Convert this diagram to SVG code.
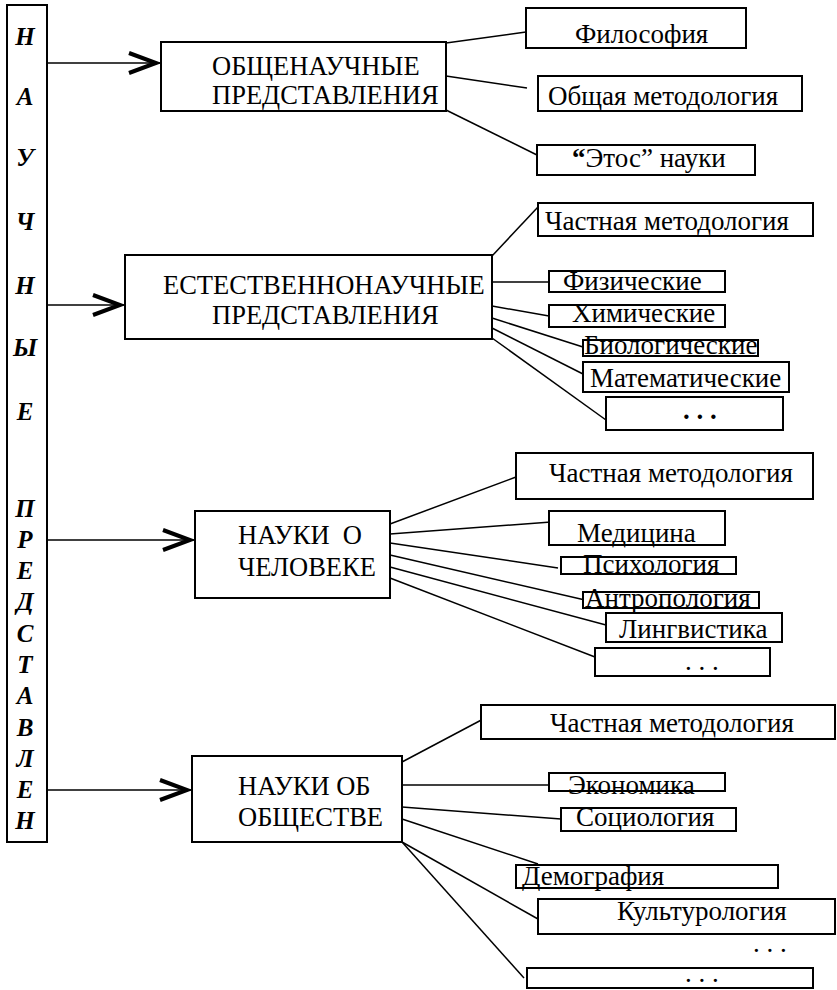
<svg xmlns="http://www.w3.org/2000/svg" width="837" height="990" viewBox="0 0 837 990">
<style>
.box{fill:#fff;stroke:#000;stroke-width:2}
.t{font-family:"Liberation Serif","Times New Roman",serif;font-size:27px;fill:#000}
.h{font-family:"Liberation Serif","Times New Roman",serif;font-size:26.5px;fill:#000}
.v{font-family:"Liberation Serif","Times New Roman",serif;font-size:25px;font-weight:bold;font-style:italic;text-anchor:middle;fill:#000}
.ln{stroke:#000;stroke-width:1.5;fill:none}
.ar{stroke:#000;stroke-width:1.5;fill:none;marker-end:url(#chev)}
</style>
<defs>
<marker id="chev" markerUnits="userSpaceOnUse" markerWidth="40" markerHeight="30" refX="32" refY="10" orient="auto" overflow="visible">
<path d="M0,0 L27,10 L0,20" fill="none" stroke="#000" stroke-width="4"/>
</marker>
</defs>
<rect width="837" height="990" fill="#fff"/>

<g id="bar">
<rect x="7" y="5" width="40" height="837" class="box"/>
<text class="v" x="25" y="45">Н</text>
<text class="v" x="25" y="105">А</text>
<text class="v" x="25" y="166">У</text>
<text class="v" x="25" y="230">Ч</text>
<text class="v" x="25" y="294">Н</text>
<text class="v" x="25" y="356">Ы</text>
<text class="v" x="25" y="420">Е</text>
<text class="v" x="25" y="517">П</text>
<text class="v" x="25" y="548">Р</text>
<text class="v" x="25" y="579">Е</text>
<text class="v" x="25" y="610">Д</text>
<text class="v" x="25" y="642">С</text>
<text class="v" x="25" y="673">Т</text>
<text class="v" x="25" y="704">А</text>
<text class="v" x="25" y="736">В</text>
<text class="v" x="25" y="767">Л</text>
<text class="v" x="25" y="798">Е</text>
<text class="v" x="25" y="829">Н</text>
</g>

<g id="connectors">
<line class="ar" x1="47" y1="63" x2="161" y2="63"/>
<line class="ar" x1="47" y1="305" x2="125" y2="305"/>
<line class="ar" x1="47" y1="540" x2="195" y2="540"/>
<line class="ar" x1="47" y1="790" x2="192" y2="790"/>

<line class="ln" x1="446" y1="43" x2="526" y2="32"/>
<line class="ln" x1="446" y1="76" x2="527" y2="88"/>
<line class="ln" x1="446" y1="110" x2="537" y2="155"/>

<line class="ln" x1="492" y1="256" x2="538" y2="207"/>
<line class="ln" x1="492" y1="282" x2="549" y2="282"/>
<line class="ln" x1="492" y1="306" x2="549" y2="316"/>
<line class="ln" x1="492" y1="318" x2="583" y2="347"/>
<line class="ln" x1="492" y1="328" x2="583" y2="374"/>
<line class="ln" x1="492" y1="338" x2="606" y2="420"/>

<line class="ln" x1="390" y1="524" x2="516" y2="477"/>
<line class="ln" x1="390" y1="534" x2="551" y2="522"/>
<line class="ln" x1="390" y1="543" x2="558" y2="568"/>
<line class="ln" x1="390" y1="555" x2="585" y2="600"/>
<line class="ln" x1="390" y1="567" x2="606" y2="625"/>
<line class="ln" x1="390" y1="578" x2="595" y2="657"/>

<line class="ln" x1="402" y1="762" x2="487" y2="717"/>
<line class="ln" x1="402" y1="785" x2="549" y2="785"/>
<line class="ln" x1="402" y1="807" x2="561" y2="819"/>
<line class="ln" x1="402" y1="819" x2="538" y2="864"/>
<line class="ln" x1="402" y1="842" x2="538" y2="919"/>
<line class="ln" x1="402" y1="842" x2="524" y2="978"/>
</g>

<g id="general">
<rect x="161" y="42" width="285" height="69" class="box"/>
<text class="h" x="212" y="75">ОБЩЕНАУЧНЫЕ</text>
<text class="h" x="212" y="104">ПРЕДСТАВЛЕНИЯ</text>
</g>
<g id="philosophy">
<rect x="526" y="8" width="220" height="40" class="box"/>
<text class="t" x="575" y="43">Философия</text>
</g>
<g id="general-methodology">
<rect x="538" y="76" width="264" height="35" class="box"/>
<text class="t" x="548" y="105">Общая методология</text>
</g>
<g id="ethos">
<rect x="537" y="145" width="218" height="30" class="box"/>
<text class="t" x="572" y="167"><tspan font-weight="bold">“</tspan>Этос” науки</text>
</g>

<g id="natural">
<rect x="125" y="255" width="367" height="84" class="box"/>
<text class="h" x="163" y="294">ЕСТЕСТВЕННОНАУЧНЫЕ</text>
<text class="h" x="212" y="324">ПРЕДСТАВЛЕНИЯ</text>
</g>
<g id="nat-method">
<rect x="538" y="203" width="275" height="33" class="box"/>
<text class="t" x="545" y="230">Частная методология</text>
</g>
<g id="physics">
<rect x="549" y="271" width="176" height="21" class="box"/>
<text class="t" x="563" y="290">Физические</text>
</g>
<g id="chemistry">
<rect x="549" y="305" width="176" height="22" class="box"/>
<text class="t" x="572" y="322">Химические</text>
</g>
<g id="biology">
<rect x="583" y="340" width="175" height="16" class="box"/>
<text class="t" x="584" y="354">Биологические</text>
</g>
<g id="math">
<rect x="583" y="362" width="206" height="30" class="box"/>
<text class="t" x="590" y="387">Математические</text>
</g>
<g id="nat-more">
<rect x="606" y="397" width="177" height="33" class="box"/>
<text class="t" x="683" y="419" font-weight="bold">. . .</text>
</g>

<g id="human">
<rect x="195" y="511" width="195" height="87" class="box"/>
<text class="h" x="238" y="544" xml:space="preserve">НАУКИ  О</text>
<text class="h" x="238" y="576">ЧЕЛОВЕКЕ</text>
</g>
<g id="hum-method">
<rect x="516" y="453" width="297" height="46" class="box"/>
<text class="t" x="549" y="482">Частная методология</text>
</g>
<g id="medicine">
<rect x="549" y="511" width="176" height="34" class="box"/>
<text class="t" x="577" y="542">Медицина</text>
</g>
<g id="psychology">
<rect x="561" y="557" width="175" height="17" class="box"/>
<text class="t" x="583" y="573">Психология</text>
</g>
<g id="anthropology">
<rect x="583" y="592" width="176" height="16" class="box"/>
<text class="t" x="585" y="607">Антропология</text>
</g>
<g id="linguistics">
<rect x="606" y="613" width="176" height="29" class="box"/>
<text class="t" x="619" y="638">Лингвистика</text>
</g>
<g id="hum-more">
<rect x="595" y="648" width="175" height="28" class="box"/>
<text class="t" x="685" y="670">. . .</text>
</g>

<g id="society">
<rect x="192" y="756" width="210" height="86" class="box"/>
<text class="h" x="238" y="795">НАУКИ ОБ</text>
<text class="h" x="238" y="826">ОБЩЕСТВЕ</text>
</g>
<g id="soc-method">
<rect x="481" y="705" width="354" height="34" class="box"/>
<text class="t" x="550" y="732">Частная методология</text>
</g>
<g id="economics">
<rect x="549" y="773" width="176" height="18" class="box"/>
<text class="t" x="568" y="794">Экономика</text>
</g>
<g id="sociology">
<rect x="561" y="808" width="175" height="23" class="box"/>
<text class="t" x="576" y="826">Социология</text>
</g>
<g id="demography">
<rect x="516" y="865" width="262" height="23" class="box"/>
<text class="t" x="522" y="885">Демография</text>
</g>
<g id="culturology">
<rect x="538" y="899" width="297" height="35" class="box"/>
<text class="t" x="617" y="920">Культурология</text>
</g>
<g id="soc-more-text">
<text class="t" x="753" y="952">. . .</text>
</g>
<g id="soc-more">
<rect x="527" y="968" width="286" height="20" class="box"/>
<text class="t" x="685" y="982">. . .</text>
</g>
</svg>
